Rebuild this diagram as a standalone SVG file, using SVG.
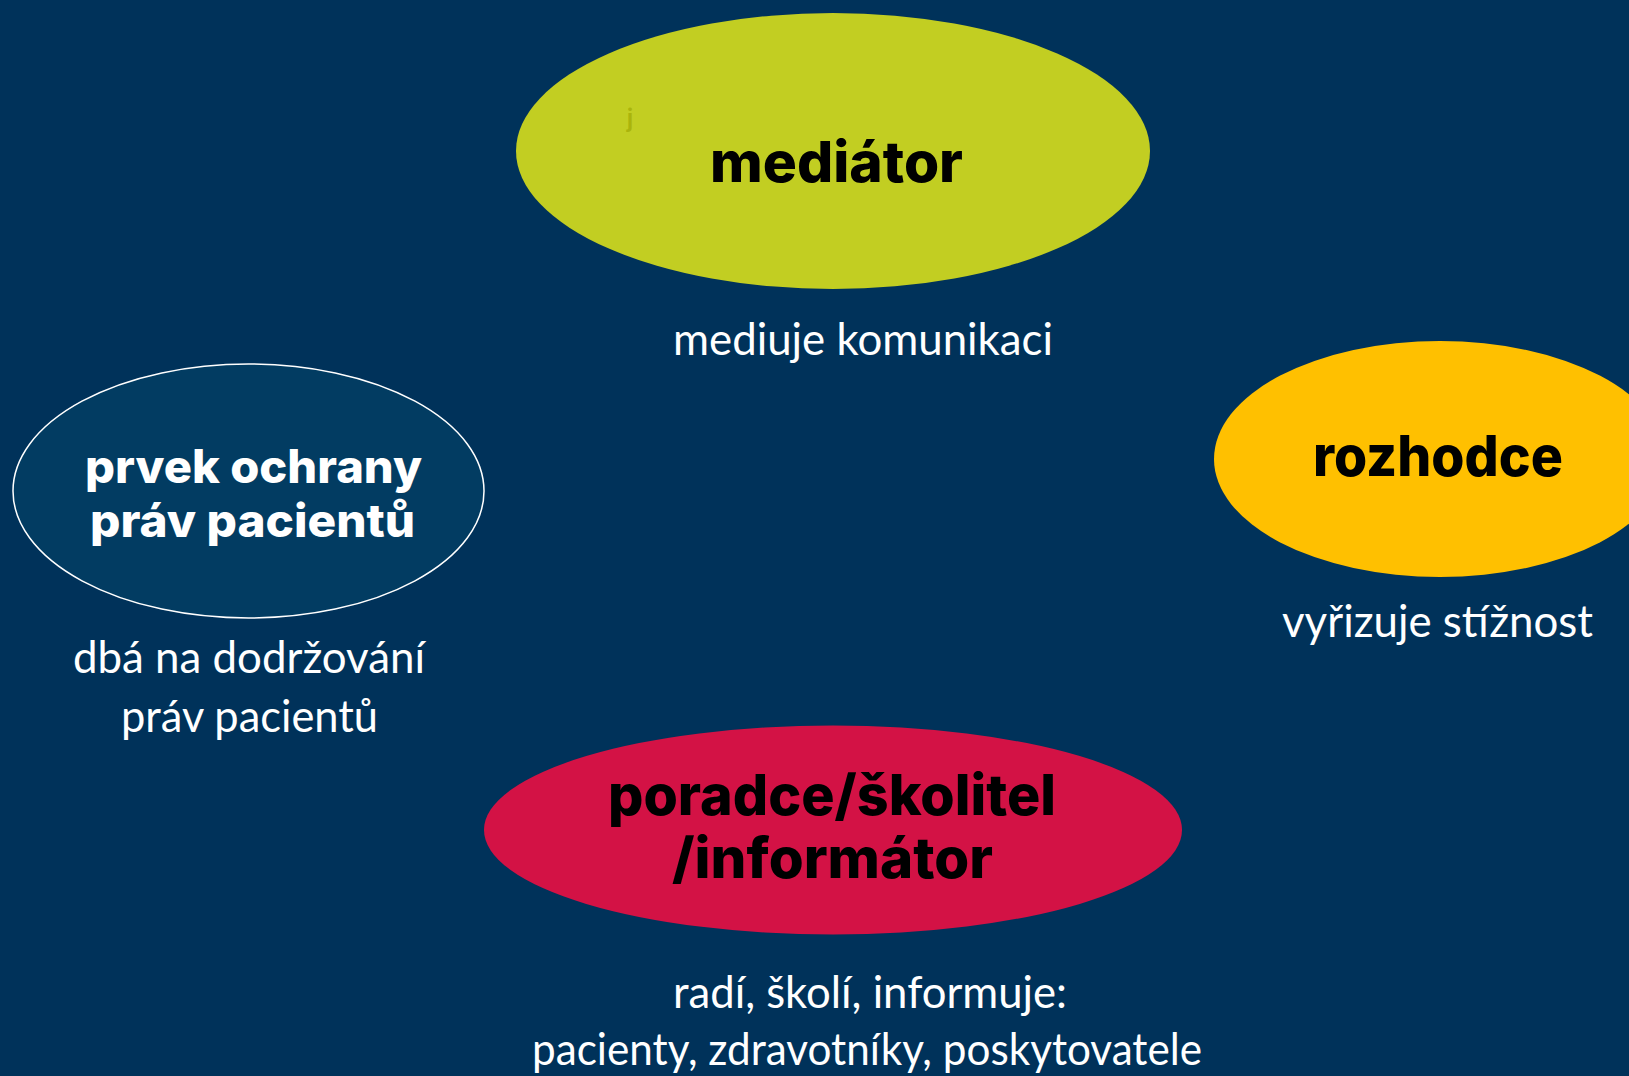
<svg xmlns="http://www.w3.org/2000/svg" width="1629" height="1076" viewBox="0 0 1629 1076">
<style>
.title{font-family:Inter,"Noto Sans","DejaVu Sans",sans-serif;font-weight:800;text-anchor:middle;fill:#000}
.titlew{font-family:Inter,"Noto Sans","DejaVu Sans",sans-serif;font-weight:800;text-anchor:middle;fill:#fff}
.sub{font-family:Lato,"Open Sans","Noto Sans",sans-serif;font-weight:400;text-anchor:middle;fill:#fff;font-size:44px}
</style>
<rect x="0" y="0" width="1629" height="1076" fill="#00325a"/>
<g id="connectors"></g>
<g id="node-mediator">
<ellipse cx="833" cy="151" rx="317" ry="138" fill="#c2ce22"/>
<text x="630" y="127" font-family="Inter,'Noto Sans',sans-serif" font-size="25" font-weight="600" fill="#aab40c" text-anchor="middle">j</text>
<text class="title" x="836.5" y="182" font-size="56" textLength="253" lengthAdjust="spacingAndGlyphs">mediátor</text>
<text class="sub" x="863" y="355" textLength="380" lengthAdjust="spacingAndGlyphs">mediuje komunikaci</text>
</g>
<g id="node-prvek">
<ellipse cx="248.5" cy="491" rx="235.5" ry="127" fill="#023c62" stroke="#ffffff" stroke-width="1.5"/>
<text class="titlew" x="253.5" y="483" font-size="46" textLength="337" lengthAdjust="spacingAndGlyphs">prvek ochrany</text>
<text class="titlew" x="252.5" y="537" font-size="46" textLength="325" lengthAdjust="spacingAndGlyphs">práv pacientů</text>
<text class="sub" x="249" y="673" textLength="352" lengthAdjust="spacingAndGlyphs">dbá na dodržování</text>
<text class="sub" x="249.5" y="732" textLength="257" lengthAdjust="spacingAndGlyphs">práv pacientů</text>
</g>
<g id="node-rozhodce">
<ellipse cx="1440" cy="459" rx="226" ry="118" fill="#ffc000"/>
<text class="title" x="1438" y="476" font-size="56" textLength="250" lengthAdjust="spacingAndGlyphs">rozhodce</text>
<text class="sub" x="1437.5" y="637" textLength="311" lengthAdjust="spacingAndGlyphs">vyřizuje stížnost</text>
</g>
<g id="node-poradce">
<ellipse cx="833" cy="830" rx="349" ry="104.5" fill="#d31245"/>
<text class="title" x="832" y="815" font-size="56" textLength="448" lengthAdjust="spacingAndGlyphs">poradce/školitel</text>
<text class="title" x="832.5" y="878" font-size="56" textLength="321" lengthAdjust="spacingAndGlyphs">/informátor</text>
<text class="sub" x="870" y="1008" textLength="394" lengthAdjust="spacingAndGlyphs">radí, školí, informuje:</text>
<text class="sub" x="867" y="1065" textLength="670" lengthAdjust="spacingAndGlyphs">pacienty, zdravotníky, poskytovatele</text>
</g>
</svg>
